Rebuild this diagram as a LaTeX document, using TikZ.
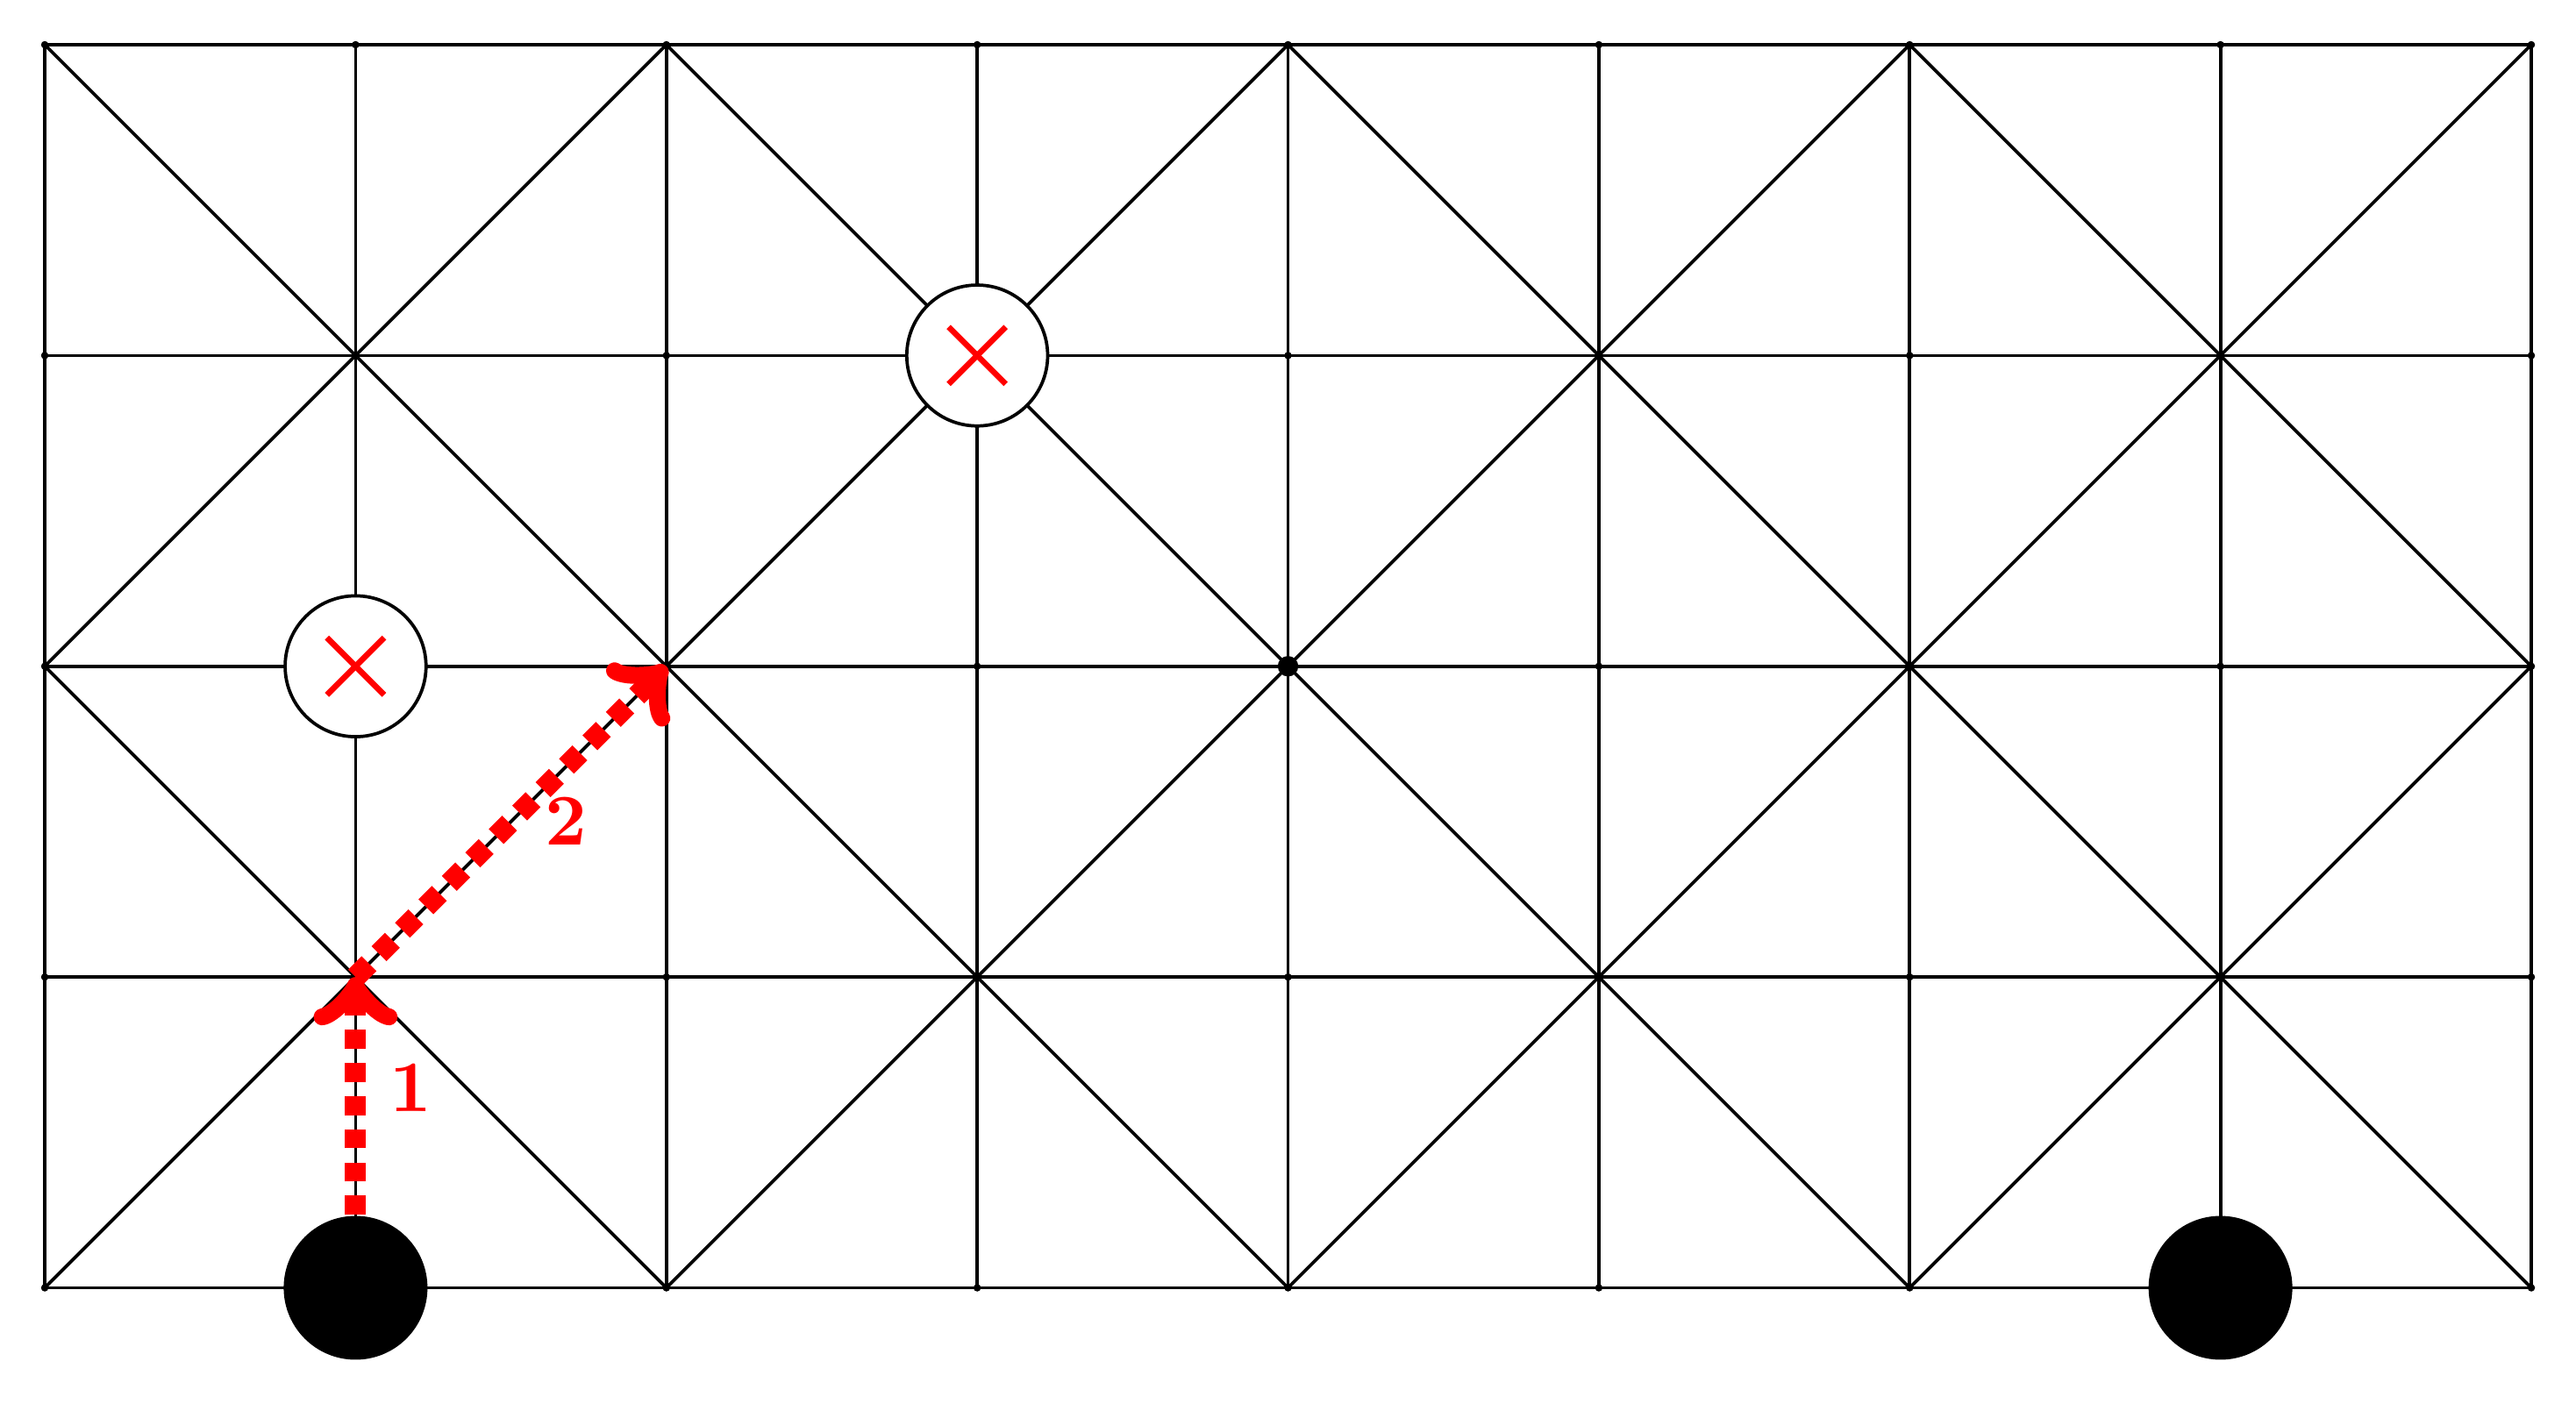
\documentclass[tikz,border=0pt]{standalone}
\usetikzlibrary{arrows,positioning}

\begin{document}
\begin{tikzpicture}[
    x=1.5cm, y=1.5cm,
    board/.style={
        line width=0.45pt,
        draw=black
    },
    centre/.style={
        circle,
        fill=black,
        inner sep=0pt,
        minimum size=0.099cm
    },
    piece/.style={
        circle,
        fill=black,
        inner sep=0pt,
        minimum size=0.694cm
    },
    vacant/.style={
        circle,
        draw=black,
        fill=white,
        line width=0.45pt,
        inner sep=0pt,
        minimum size=0.68cm
    },
    cross/.style={
        draw=red,
        line width=0.8pt
    },
    move/.style={
        draw=red,
        ->,
        line width=2.9pt,
        dash pattern=on 2.6pt off 1.95pt
    },
    movenum/.style={
        text=red,
        font=\bfseries,
        inner sep=0pt
    }
]
    \useasboundingbox (-0.144,-0.3725) rectangle (8.144,4.144);

    % --- Board ---
    \foreach \i in {0,...,8}
        \foreach \j in {0,...,4}
            \coordinate (p\i\j) at (\i,\j);
    \foreach \i in {0,...,8}
        \draw[board] (p\i0) -- (p\i4);
    \foreach \j in {0,...,4}
        \draw[board] (p0\j) -- (p8\j);
    \foreach \i in {0,...,7}
        \foreach \j in {0,...,3} {
            \pgfmathtruncatemacro\parity{mod(\i+\j,2)}
            \ifnum\parity=0
                \draw[board] (\i,\j) -- ++(1,1);
            \else
                \draw[board] (\i,\j+1) -- ++(1,-1);
            \fi
        }
    \foreach \i in {0,...,8}
        \foreach \j in {0,...,4}
            \fill (p\i\j) circle (0.018cm);
    \node[centre] (mid) at (p42) {};

    % --- Pieces ---
    \node[vacant] (gone1) at (p12) {};
    \node[vacant] (gone2) at (p33) {};
    \foreach \g in {gone1,gone2} {
        \draw[cross] ([shift={(-0.092,-0.092)}]\g.center) -- ([shift={(0.092,0.092)}]\g.center);
        \draw[cross] ([shift={(-0.092,0.092)}]\g.center) -- ([shift={(0.092,-0.092)}]\g.center);
    }
    \node[piece] (stone1) at (p10) {};
    \node[piece] (stone2) at (p70) {};

    % --- Moves ---
    \draw[move] (stone1) -- (p11);
    \draw[move] (p11) -- (p22);
    \node[movenum] (num1) at (1.179,0.643) {1};
    \node[movenum] (num2) at (1.676,1.501) {2};

\end{tikzpicture}
\end{document}
